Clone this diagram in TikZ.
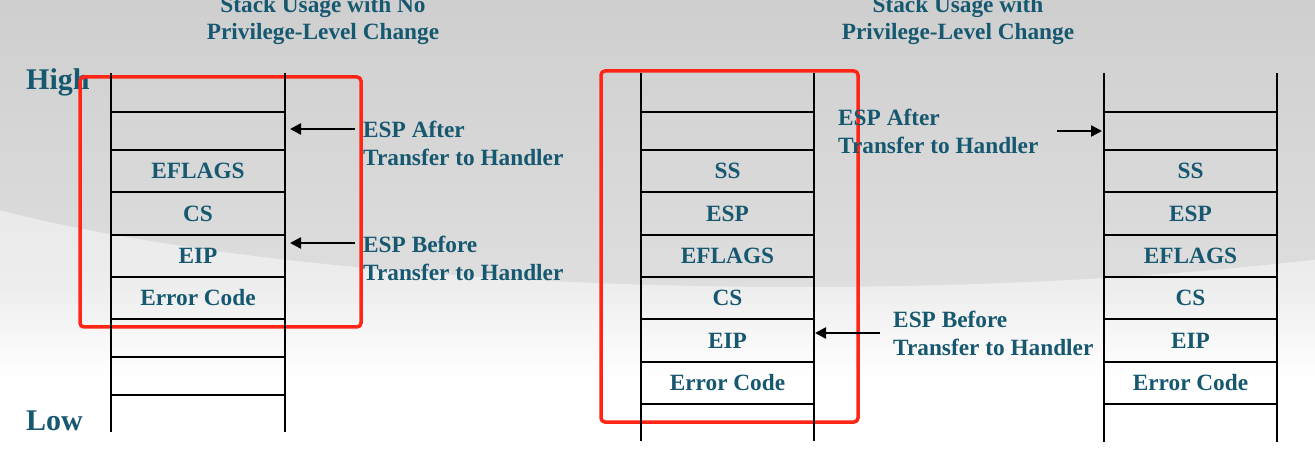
\documentclass[tikz,border=0pt]{standalone}
\usepackage{fontspec}
\setmainfont{Liberation Serif}
\usetikzlibrary{arrows.meta}
\definecolor{txt}{RGB}{22,88,112}
\definecolor{redbox}{RGB}{255,38,24}
\pgfdeclareverticalshading{bgsh}{100bp}{color(0bp)=(white); color(34bp)=(white); color(44bp)=(black!7); color(75bp)=(black!12); color(100bp)=(black!12)}
\tikzset{
  lbl/.style={font=\fontsize{23.3}{28}\selectfont\bfseries, text=txt, inner sep=0pt, align=left},
  ttl/.style={font=\fontsize{23.3}{27.5}\selectfont\bfseries, text=txt, inner sep=0pt, align=center},
  big/.style={font=\fontsize{30}{34}\selectfont\bfseries, text=txt, inner sep=0pt},
  cell/.style={draw=black, line width=1.6pt, minimum width=174pt, inner sep=0pt,
    font=\fontsize{23.3}{28}\selectfont\bfseries, text=txt},
  rail/.style={draw=black, line width=1.6pt},
  rbox/.style={draw=redbox, line width=3.5pt, rounded corners=4pt},
  ptr/.style={draw=black, line width=2.4pt, -{Triangle[length=11pt,width=11pt]}}
}
\begin{document}
\begin{tikzpicture}[x=1pt,y=-1pt]
\useasboundingbox (0,0) rectangle (1315,462);
% background
\shade[shading=bgsh] (0,0) rectangle (1315,462);
\begin{scope}
\clip (0,0) rectangle (1315,462);
\shade[top color=black!21, bottom color=black!13] (800,95) ellipse [x radius=1000, y radius=192];
\end{scope}

% titles
\node[ttl, anchor=south] (t1) at (323,45) {Stack Usage with No\\Privilege-Level Change};
\node[ttl, anchor=south] (t2) at (958,45) {Stack Usage with\\Privilege-Level Change};
\node[big, anchor=base west] (high) at (26,90) {High};
\node[big, anchor=base west] (low) at (26,430) {Low};

% red boxes
\draw[rbox] (80,77) rectangle (361,327);
\draw[rbox] (601,71) rectangle (858,422);

% left stack
\draw[rail] (111,73) -- (111,432);
\draw[rail] (285,73) -- (285,432);
\node[cell, minimum height=38pt] (L1) at (198,131) {};
\node[cell, minimum height=42pt] (L2) at (198,171) {EFLAGS};
\node[cell, minimum height=43pt] (L3) at (198,213.5) {CS};
\node[cell, minimum height=42pt] (L4) at (198,256) {EIP};
\node[cell, minimum height=42pt] (L5) at (198,298) {Error Code};
\node[cell, minimum height=38pt] (L6) at (198,338) {};
\node[cell, minimum height=38pt] (L7) at (198,376) {};

% middle stack
\draw[rail] (641,73) -- (641,441);
\draw[rail] (814,73) -- (814,441);
\node[cell, minimum height=38pt] (M1) at (727.5,131) {};
\node[cell, minimum height=42pt] (M2) at (727.5,171) {SS};
\node[cell, minimum height=43pt] (M3) at (727.5,213.5) {ESP};
\node[cell, minimum height=42pt] (M4) at (727.5,256) {EFLAGS};
\node[cell, minimum height=42pt] (M5) at (727.5,298) {CS};
\node[cell, minimum height=43pt] (M6) at (727.5,340.5) {EIP};
\node[cell, minimum height=42pt] (M7) at (727.5,383) {Error Code};

% right stack
\draw[rail] (1104,73) -- (1104,442);
\draw[rail] (1277,73) -- (1277,442);
\node[cell, minimum height=38pt] (R1) at (1190.5,131) {};
\node[cell, minimum height=42pt] (R2) at (1190.5,171) {SS};
\node[cell, minimum height=43pt] (R3) at (1190.5,213.5) {ESP};
\node[cell, minimum height=42pt] (R4) at (1190.5,256) {EFLAGS};
\node[cell, minimum height=42pt] (R5) at (1190.5,298) {CS};
\node[cell, minimum height=43pt] (R6) at (1190.5,340.5) {EIP};
\node[cell, minimum height=42pt] (R7) at (1190.5,383) {Error Code};

% labels
\node[lbl, anchor=north west] (la) at (363,121) {ESP After\\Transfer to Handler};
\node[lbl, anchor=north west] (lb) at (363,236) {ESP Before\\Transfer to Handler};
\node[lbl, anchor=north west] (ma) at (838,109) {ESP After\\Transfer to Handler};
\node[lbl, anchor=north west] (mb) at (893,311) {ESP Before\\Transfer to Handler};

% arrows
\coordinate (ta) at (355,129); \coordinate (ha) at (290,129);
\coordinate (tb) at (355,243); \coordinate (hb) at (290,243);
\coordinate (tm) at (880,333); \coordinate (hm) at (815,333);
\coordinate (tr) at (1057,131); \coordinate (hr) at (1102,131);
\draw[ptr] (ta) -- (ha);
\draw[ptr] (tb) -- (hb);
\draw[ptr] (tm) -- (hm);
\draw[ptr] (tr) -- (hr);
\end{tikzpicture}
\end{document}
